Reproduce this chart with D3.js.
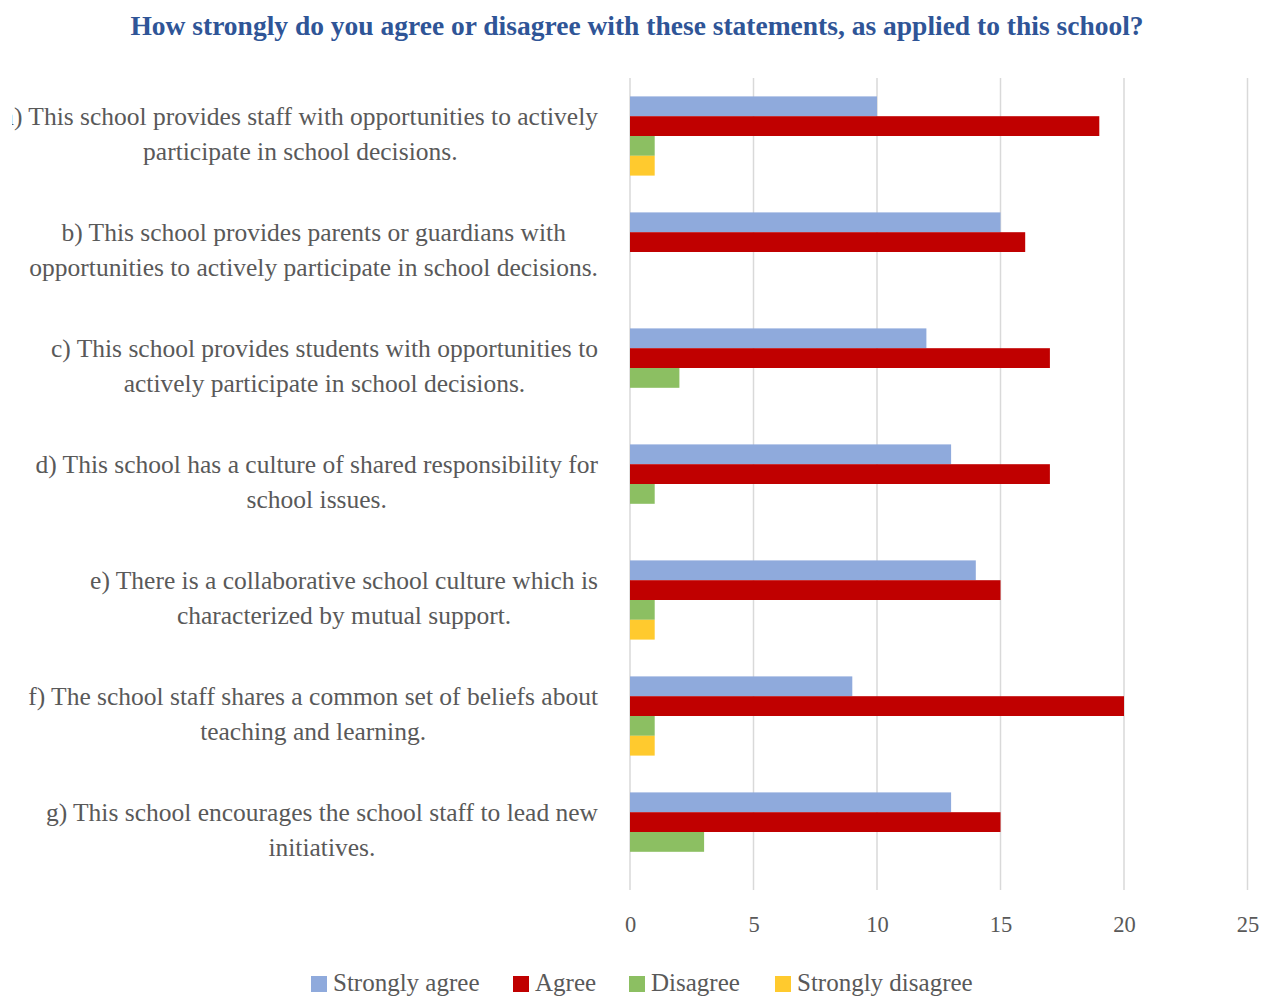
<!DOCTYPE html>
<html><head><meta charset="utf-8">
<script src="https://cdn.jsdelivr.net/npm/d3@7"></script>
<style>
html,body{margin:0;padding:0;background:#fff;}
svg text{font-family:"Liberation Serif","Times New Roman",serif;}
</style></head>
<body>
<svg id="chart" width="1262" height="996"></svg>
<script>
const title = "How strongly do you agree or disagree with these statements, as applied to this school?";
const categories = [
  ["a) This school provides staff with opportunities to actively", "participate in school decisions."],
  ["b) This school provides parents or guardians with", "opportunities to actively participate in school decisions."],
  ["c) This school provides students with opportunities to", "actively participate in school decisions."],
  ["d) This school has a culture of shared responsibility for", "school issues."],
  ["e) There is a collaborative school culture which is", "characterized by mutual support."],
  ["f) The school staff shares a common set of beliefs about", "teaching and learning."],
  ["g) This school encourages the school staff to lead new", "initiatives."]
];
const seriesNames = ["Strongly agree", "Agree", "Disagree", "Strongly disagree"];
const stronglyAgree    = [10, 15, 12, 13, 14, 9, 13];
const agree            = [19, 16, 17, 17, 15, 20, 15];
const disagree         = [1, 0, 2, 1, 1, 1, 3];
const stronglyDisagree = [1, 0, 0, 0, 1, 1, 0];
const xTicks = [0, 5, 10, 15, 20, 25];
const colors = ["#8FAADC", "#C00000", "#8CBF62", "#FFCA2E"];

const seriesValues = [stronglyAgree, agree, disagree, stronglyDisagree];
const svg = d3.select("#chart");

const plot = {left: 630, right: 1247.5, top: 78, bottom: 890};
const x = d3.scaleLinear().domain([0, 25]).range([plot.left, plot.right]);
const y = d3.scaleBand().domain(d3.range(categories.length)).range([plot.top, plot.bottom]).paddingInner(0).paddingOuter(0);
const barH = 19.8;
const y1 = d3.scaleBand().domain(d3.range(4)).range([0, barH*4]);
const groupOffset = (y.bandwidth() - barH*4) / 2;

// title
svg.append("text").attr("x", 637).attr("y", 35).attr("text-anchor", "middle")
  .attr("font-size", 27.5).attr("font-weight", "bold").attr("fill", "#2F5597")
  .text(title);

// gridlines
svg.append("g").selectAll("line").data(xTicks).join("line")
  .attr("x1", d => x(d)).attr("x2", d => x(d))
  .attr("y1", plot.top).attr("y2", plot.bottom)
  .attr("stroke", "#D9D9D9").attr("stroke-width", 1.5);

// axis labels
const xAxis = d3.axisBottom(x).tickValues(xTicks).tickSize(0).tickPadding(0);
const ax = svg.append("g").attr("transform", `translate(0,${plot.bottom + 26})`).call(xAxis);
ax.select(".domain").remove();
ax.selectAll("text").attr("font-size", 22.5).attr("fill", "#595959")
  .attr("font-family", "Liberation Serif, serif").attr("dy", "0.71em");

// bars
const groups = svg.append("g").selectAll("g").data(categories.map((c, i) => i)).join("g")
  .attr("transform", i => `translate(0,${y(i) + groupOffset})`);
groups.selectAll("rect").data(i => seriesValues.map((s, k) => ({k, v: s[i]}))).join("rect")
  .attr("x", x(0)).attr("y", d => y1(d.k)).attr("height", y1.bandwidth())
  .attr("width", d => x(d.v) - x(0)).attr("fill", d => colors[d.k]);

// category labels
svg.append("defs").append("clipPath").attr("id", "labclip")
  .append("rect").attr("x", 12).attr("y", 0).attr("width", 600).attr("height", 996);
const labG = svg.append("g").attr("clip-path", "url(#labclip)");
categories.forEach((lines, i) => {
  const cy = y(i) + y.bandwidth() / 2;
  const t = labG.append("text").attr("font-size", 25.5).attr("fill", "#595959").attr("text-anchor", "middle");
  const tspans = lines.map((ln, j) => t.append("tspan").attr("y", cy + 6 + (j - (lines.length - 1) / 2) * 35).text(ln));
  let maxW = 0;
  tspans.forEach(ts => { maxW = Math.max(maxW, ts.node().getComputedTextLength()); });
  const cx = 598 - maxW / 2;
  tspans.forEach(ts => ts.attr("x", cx));
});

// legend
const legendX = [311, 513, 629, 775];
const lg = svg.append("g").selectAll("g").data(seriesNames).join("g")
  .attr("transform", (d, i) => `translate(${legendX[i]},976)`);
lg.append("rect").attr("width", 16).attr("height", 16).attr("fill", (d, i) => colors[i]);
lg.append("text").attr("x", 22).attr("y", 15).attr("font-size", 25).attr("fill", "#595959").text(d => d);
</script>
</body></html>
